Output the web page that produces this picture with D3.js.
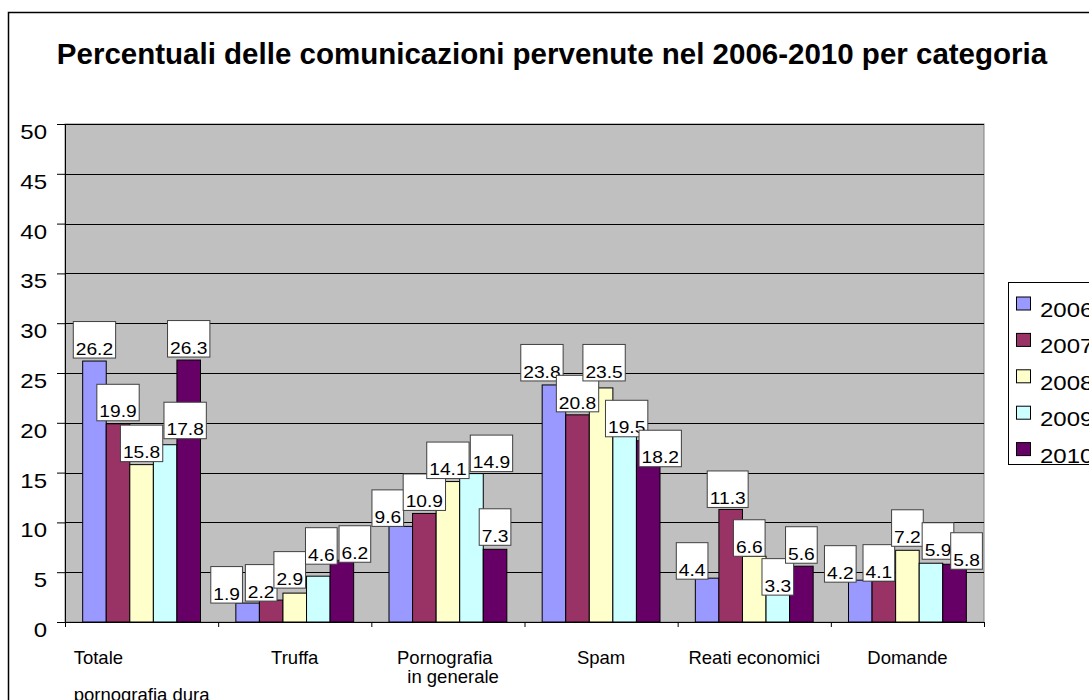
<!DOCTYPE html>
<html>
<head>
<meta charset="utf-8">
<script src="https://cdn.jsdelivr.net/npm/d3@7"></script>
<style>
  html, body { margin: 0; padding: 0; background: #fff; overflow: hidden; }
  svg { display: block; font-family: "Liberation Sans", Arial, Helvetica, sans-serif; }
</style>
</head>
<body>
<svg id="chart" width="1089" height="700"></svg>
<script>
// ---- data ----
const title = "Percentuali delle comunicazioni pervenute nel 2006-2010 per categoria";
const categories = ["Totale\n\npornografia dura", "Truffa", "Pornografia\n  in generale", "Spam", "Reati economici", "Domande"];
const years = ["2006", "2007", "2008", "2009", "2010"];
const v2006 = [26.2, 1.9, 9.6, 23.8, 4.4, 4.2];
const v2007 = [19.9, 2.2, 10.9, 20.8, 11.3, 4.1];
const v2008 = [15.8, 2.9, 14.1, 23.5, 6.6, 7.2];
const v2009 = [17.8, 4.6, 14.9, 19.5, 3.3, 5.9];
const v2010 = [26.3, 6.2, 7.3, 18.2, 5.6, 5.8];
const yTicks = [0, 5, 10, 15, 20, 25, 30, 35, 40, 45, 50];

// ---- styling ----
const colors = ["#9999ff", "#993366", "#ffffcc", "#ccffff", "#660066"];
// small pixel nudges [dx, dy] that keep neighbouring value boxes apart (per year, per category)
const labelShift = [
  [[0, 0], [-21, 3], [-13, 3], [-12, -1], [-15, 4], [-20, 5]],
  [[0, 0], [-10, 4], [0, 0], [0, 0], [-3, 1], [-5, 3]],
  [[0, 0], [-5, -2], [0, 0], [3, -4], [-5, 3], [0, -1]],
  [[20, -3], [3, -9], [20, 1], [2, 12], [0, 9], [7, -1]],
  [[0, 0], [13, 5], [0, -1], [12, 29], [0, 0], [12, 8]]
];
const numStretch = 1.2;   // the numeric labels are drawn slightly wide

const series = [v2006, v2007, v2008, v2009, v2010];

const svg = d3.select("#chart");
const plot = { left: 65, right: 984, top: 124, bottom: 622 };

// chart area frame (extends past the right and bottom edges)
svg.append("rect")
  .attr("x", 8.5).attr("y", 12.5)
  .attr("width", 1100).attr("height", 720)
  .attr("fill", "#fff").attr("stroke", "#000").attr("stroke-width", 1.5);

// title
svg.append("text")
  .attr("x", 552).attr("y", 64)
  .attr("text-anchor", "middle")
  .attr("font-size", 29.5).attr("font-weight", "bold")
  .attr("fill", "#000")
  .text(title);

// scales
const catIdx = categories.map((d, i) => i);
const x0 = d3.scaleBand().domain(catIdx).range([plot.left, plot.right]).paddingInner(0).paddingOuter(0);
const x1 = d3.scaleBand().domain(years).range([0, x0.bandwidth()]).paddingInner(0).paddingOuter(0.75);
const y = d3.scaleLinear().domain([0, 50]).range([plot.bottom, plot.top]);

// plot background
svg.append("rect")
  .attr("x", plot.left).attr("y", plot.top)
  .attr("width", plot.right - plot.left).attr("height", plot.bottom - plot.top)
  .attr("fill", "#c0c0c0").attr("stroke", "#808080").attr("stroke-width", 1);

// gridlines
svg.append("g")
  .selectAll("line")
  .data(yTicks.filter(t => t > 0))
  .join("line")
  .attr("x1", plot.left).attr("x2", plot.right)
  .attr("y1", d => Math.round(y(d)) + 0.5).attr("y2", d => Math.round(y(d)) + 0.5)
  .attr("stroke", "#000").attr("stroke-width", 1);

// y axis
const yAxis = svg.append("g")
  .attr("transform", `translate(${plot.left},0)`)
  .call(d3.axisLeft(y).tickValues(yTicks).tickSize(8).tickSizeOuter(0));
yAxis.select(".domain").attr("stroke", "#000");
yAxis.selectAll(".tick line").attr("stroke", "#000");
yAxis.selectAll(".tick text")
  .attr("x", 0).attr("dy", "0.72em")
  .attr("transform", `translate(-18,0) scale(${numStretch},1)`)
  .attr("font-size", 20).attr("font-family", null)
  .attr("fill", "#000")
  .attr("text-anchor", "end");

// x axis with ticks on category boundaries
const xb = d3.scaleLinear().domain([0, categories.length]).range([plot.left, plot.right]);
const xAxis = svg.append("g")
  .attr("transform", `translate(0,${plot.bottom})`)
  .call(d3.axisBottom(xb).ticks(categories.length).tickSize(5).tickSizeOuter(0).tickFormat(""));
xAxis.select(".domain").attr("stroke", "#000");
xAxis.selectAll(".tick line").attr("stroke", "#000");

// bars
const groups = svg.append("g")
  .selectAll("g")
  .data(years)
  .join("g")
  .attr("fill", (d, i) => colors[i]);

groups.each(function (yr, si) {
  d3.select(this).selectAll("rect")
    .data(series[si])
    .join("rect")
    .attr("x", (v, ci) => x0(ci) + x1(yr))
    .attr("y", v => y(v))
    .attr("width", x1.bandwidth())
    .attr("height", v => y(0) - y(v))
    .attr("stroke", "#000")
    .attr("stroke-width", 1);
});

// value labels in white boxes
const labelLayer = svg.append("g");
const boxH = 36.5;
years.forEach((yr, si) => {
  series[si].forEach((v, ci) => {
    const [dx, dy] = labelShift[si][ci];
    const cx = x0(ci) + x1(yr) + x1.bandwidth() / 2 + dx;
    const bottom = y(v) - 3 + dy;
    const g = labelLayer.append("g");
    const rect = g.append("rect");
    const t = g.append("text")
      .attr("text-anchor", "middle")
      .attr("font-size", 16)
      .attr("fill", "#000")
      .attr("transform", `translate(${cx},${bottom - 3.3}) scale(${numStretch},1)`)
      .text(v.toFixed(1));
    const w = t.node().getComputedTextLength() * numStretch + 5;
    rect.attr("x", cx - w / 2).attr("y", bottom - boxH)
      .attr("width", w).attr("height", boxH)
      .attr("fill", "#fff").attr("stroke", "#404040").attr("stroke-width", 1);
  });
});

// category labels: lines left-aligned inside a block centred on the category
const catLayer = svg.append("g").attr("font-size", 18.5).attr("fill", "#000");
categories.forEach((label, ci) => {
  const lines = label.split("\n");
  const cx = x0(ci) + x0.bandwidth() / 2;
  const texts = lines.map((ln, li) => catLayer.append("text")
    .attr("xml:space", "preserve")
    .style("white-space", "pre")
    .attr("y", 664 + li * 18.5)
    .text(ln));
  const widths = texts.map(t => t.node().getComputedTextLength());
  const bw = d3.max(widths);
  texts.forEach(t => t.attr("x", lines.length > 1 ? cx - bw / 2 : cx - t.node().getComputedTextLength() / 2));
});

// legend
const legend = svg.append("g");
legend.append("rect")
  .attr("x", 1008.5).attr("y", 282.5)
  .attr("width", 120).attr("height", 182)
  .attr("fill", "#fff").attr("stroke", "#000").attr("stroke-width", 1);
const rowStep = 36.4;
years.forEach((yr, i) => {
  const top = 297 + i * rowStep;
  legend.append("rect")
    .attr("x", 1016.5).attr("y", top)
    .attr("width", 14).attr("height", 13)
    .attr("fill", colors[i]).attr("stroke", "#000").attr("stroke-width", 1);
  legend.append("text")
    .attr("font-size", 20)
    .attr("fill", "#000")
    .attr("transform", `translate(1040,${top + 20}) scale(${numStretch},1)`)
    .text(yr);
});
</script>
</body>
</html>
